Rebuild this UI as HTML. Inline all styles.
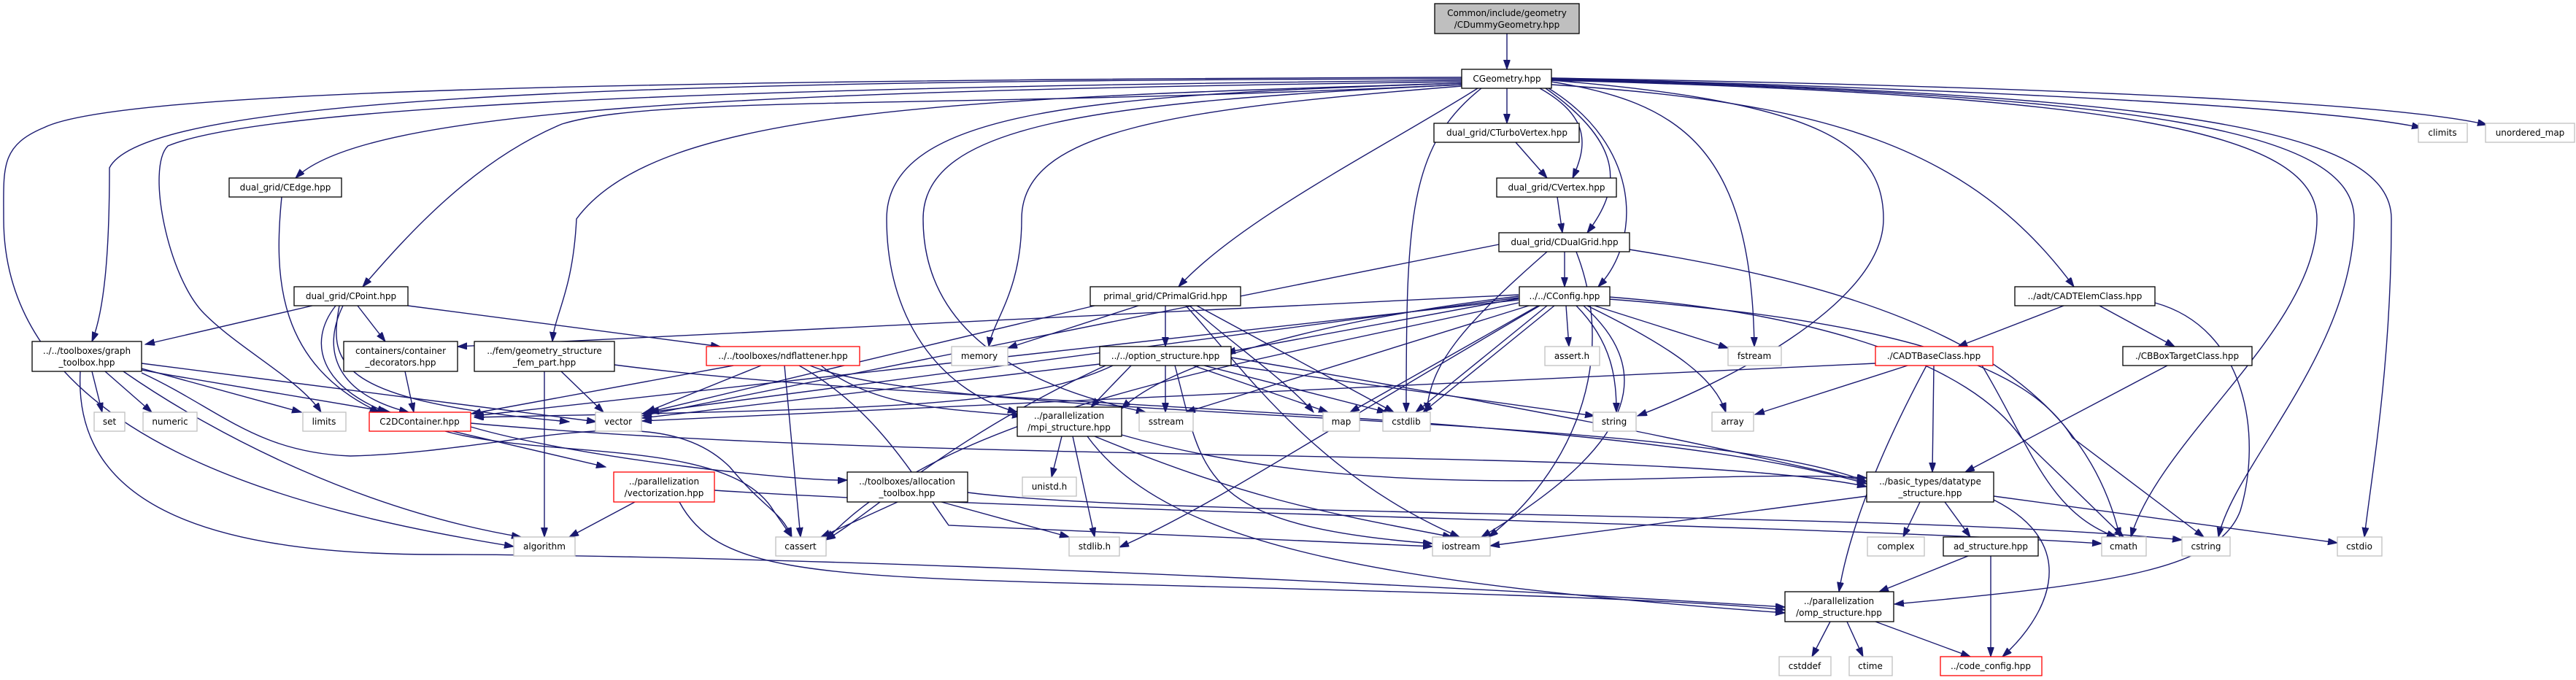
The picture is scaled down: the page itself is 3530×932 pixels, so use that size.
<!DOCTYPE html>
<html><head><meta charset="utf-8"><style>
html,body{margin:0;padding:0;background:#fff;}
svg{display:block;}
text{font-family:"DejaVu Sans","Liberation Sans",sans-serif;font-size:12px;fill:#000;text-anchor:middle;}
.n rect{fill:#fff;stroke:#000;stroke-width:1.3;}
.s rect{fill:#fff;stroke:#bfbfbf;stroke-width:1.3;}
.r rect{fill:#fff;stroke:#ff0000;stroke-width:1.3;}
path.e{fill:none;stroke:#191970;stroke-width:1.4;}
</style></head><body>
<svg width="3530" height="932" viewBox="0 0 3530 932" xmlns="http://www.w3.org/2000/svg">
<defs><marker id="a" markerUnits="userSpaceOnUse" markerWidth="14" markerHeight="10" refX="13" refY="4.5" orient="auto"><path d="M0,0 L13,4.5 L0,9 z" fill="#191970" stroke="#191970"/></marker></defs>
<g marker-end="url(#a)">
<path class="e" d="M2065 46 L2065 95"/>
<path class="e" d="M2065 121 L2065 169"/>
<path class="e" d="M2110 121 C2180 160 2175 200 2155 244"/>
<path class="e" d="M2118 121 C2230 200 2220 260 2175 319"/>
<path class="e" d="M2122 121 C2250 200 2250 330 2190 393"/>
<path class="e" d="M2077 195 L2120 244"/>
<path class="e" d="M2134 270 L2141 319"/>
<path class="e" d="M2144 345 L2144 393"/>
<path class="e" d="M2003 112 C1000 125 500 150 405 244"/>
<path class="e" d="M2003 116 C1300 150 900 130 770 170 C650 220 560 320 497 393"/>
<path class="e" d="M2003 108 C900 110 200 130 150 230 C150 330 145 420 126 468"/>
<path class="e" d="M2003 106 C700 110 150 130 60 175 C0 200 5 230 5 300 C5 600 400 700 704 749"/>
<path class="e" d="M2003 110 C900 120 350 150 230 200 C200 230 230 380 280 430 C330 480 410 520 440 565"/>
<path class="e" d="M2003 114 C1300 135 900 150 790 300 C785 400 760 430 757 468"/>
<path class="e" d="M2025 121 C1900 200 1700 300 1615 393"/>
<path class="e" d="M2003 114 C1500 130 1215 150 1215 300 C1215 450 1300 540 1394 565"/>
<path class="e" d="M2003 116 C1500 140 1265 170 1265 300 C1265 480 1450 540 1570 565"/>
<path class="e" d="M2003 118 C1600 150 1400 180 1400 300 C1400 400 1360 440 1355 475"/>
<path class="e" d="M2030 121 C1930 200 1927 300 1927 565"/>
<path class="e" d="M2126 112 C2300 140 2400 200 2404 475"/>
<path class="e" d="M2126 110 C2500 140 2581 200 2581 300 C2581 420 2350 530 2244 570"/>
<path class="e" d="M2126 110 C2900 130 3175 180 3175 300 C3175 450 2960 600 2920 736"/>
<path class="e" d="M2126 109 C2950 130 3226 180 3226 300 C3226 480 3060 640 3040 736"/>
<path class="e" d="M2126 108 C3000 130 3277 180 3277 300 C3277 500 3250 650 3240 736"/>
<path class="e" d="M2126 107 C2800 125 3200 150 3318 175"/>
<path class="e" d="M2126 107 C2900 120 3300 145 3408 171"/>
<path class="e" d="M2126 116 C2500 140 2700 200 2842 393"/>
<path class="e" d="M386 270 C375 380 380 500 520 565"/>
<path class="e" d="M428 419 L199 472"/>
<path class="e" d="M490 419 L528 468"/>
<path class="e" d="M460 419 C420 470 440 530 530 565"/>
<path class="e" d="M470 419 C440 480 460 540 560 565"/>
<path class="e" d="M559 419 L987 475"/>
<path class="e" d="M465 419 C450 500 460 550 780 578"/>
<path class="e" d="M194 507 L232 514 L535 565"/>
<path class="e" d="M194 498 L817 578"/>
<path class="e" d="M194 505 L413 565"/>
<path class="e" d="M126 509 L140 565"/>
<path class="e" d="M144 509 L208 565"/>
<path class="e" d="M169 509 C300 600 500 700 714 736"/>
<path class="e" d="M110 509 C100 700 300 760 600 760 C900 760 1600 780 2446 832"/>
<path class="e" d="M194 511 C300 560 350 620 480 625 C700 620 900 540 1000 640 C1050 700 1070 700 1085 736"/>
<path class="e" d="M555 509 L567 565"/>
<path class="e" d="M769 509 L827 565"/>
<path class="e" d="M746 509 L746 736"/>
<path class="e" d="M842 500 C1300 560 2200 560 2558 663"/>
<path class="e" d="M1005 501 L646 567"/>
<path class="e" d="M1043 501 L885 565"/>
<path class="e" d="M1075 501 L1097 736"/>
<path class="e" d="M1095 501 C1200 560 1250 650 1300 720 C1500 730 1800 740 1963 749"/>
<path class="e" d="M1125 501 C1200 560 1300 560 1400 570"/>
<path class="e" d="M1110 501 C1300 580 2300 560 2558 660"/>
<path class="e" d="M620 591 L830 640"/>
<path class="e" d="M645 585 C800 630 1100 660 1161 658"/>
<path class="e" d="M645 580 C1300 640 2300 610 2558 667"/>
<path class="e" d="M610 591 C750 630 1000 600 1060 700 L1085 736"/>
<path class="e" d="M870 688 L780 736"/>
<path class="e" d="M931 688 C980 780 1100 790 1500 800 C1900 810 2300 820 2446 836"/>
<path class="e" d="M979 672 C1400 700 2500 720 2880 745"/>
<path class="e" d="M1230 688 L1125 736"/>
<path class="e" d="M1290 688 L1465 736"/>
<path class="e" d="M1326 675 C1600 710 2600 700 2990 740"/>
<path class="e" d="M1560 419 L1381 477"/>
<path class="e" d="M1597 419 L1597 475"/>
<path class="e" d="M1500 419 L880 567"/>
<path class="e" d="M1640 419 L1910 565"/>
<path class="e" d="M1630 419 C1700 480 1760 520 1800 565"/>
<path class="e" d="M1625 419 C1700 500 1800 650 2000 736"/>
<path class="e" d="M1550 501 L1495 558"/>
<path class="e" d="M1597 501 L1597 565"/>
<path class="e" d="M1635 501 L1820 565"/>
<path class="e" d="M1650 501 L1900 565"/>
<path class="e" d="M1680 500 L2185 570"/>
<path class="e" d="M1507 499 L880 573"/>
<path class="e" d="M1525 501 C1400 560 1200 560 650 572"/>
<path class="e" d="M1610 501 C1650 650 1640 720 1963 745"/>
<path class="e" d="M1515 501 C1300 600 1200 700 1132 740"/>
<path class="e" d="M1687 490 C2100 560 2300 600 2558 660"/>
<path class="e" d="M1455 598 L1441 654"/>
<path class="e" d="M1470 598 L1500 736"/>
<path class="e" d="M1490 598 C1600 750 1900 800 2446 840"/>
<path class="e" d="M1537 596 C1900 700 2300 640 2558 655"/>
<path class="e" d="M1500 598 C1700 680 1800 700 1990 736"/>
<path class="e" d="M2081 409 L1680 483"/>
<path class="e" d="M2081 406 C1800 440 1600 500 1537 560"/>
<path class="e" d="M2081 404 L627 475"/>
<path class="e" d="M2081 408 L890 565"/>
<path class="e" d="M2081 411 L650 570"/>
<path class="e" d="M2095 419 L1625 565"/>
<path class="e" d="M2108 419 L1850 565"/>
<path class="e" d="M2120 419 L1940 565"/>
<path class="e" d="M2130 419 L1950 565"/>
<path class="e" d="M2146 419 L2150 475"/>
<path class="e" d="M2160 419 C2210 470 2215 520 2215 565"/>
<path class="e" d="M2185 419 L2368 477"/>
<path class="e" d="M2175 419 C2300 480 2350 520 2365 565"/>
<path class="e" d="M2170 419 C2260 500 2260 600 2030 736"/>
<path class="e" d="M2205 407 C2500 430 2700 500 2770 600 L2910 736"/>
<path class="e" d="M2205 410 C2600 440 2780 500 2840 600 L3020 736"/>
<path class="e" d="M2110 419 C1800 600 1650 700 1534 750"/>
<path class="e" d="M2081 415 C1700 500 1300 560 1132 740"/>
<path class="e" d="M2054 335 L880 570"/>
<path class="e" d="M2120 345 C2000 450 1960 500 1955 565"/>
<path class="e" d="M2160 345 C2220 500 2150 650 2040 736"/>
<path class="e" d="M2233 342 C2600 400 2850 500 2905 736"/>
<path class="e" d="M2828 419 L2683 475"/>
<path class="e" d="M2877 419 L2980 475"/>
<path class="e" d="M2953 415 C3080 450 3100 600 3070 700 C3040 780 2900 800 2596 828"/>
<path class="e" d="M2650 501 L2648 647"/>
<path class="e" d="M2614 501 L2405 568"/>
<path class="e" d="M2570 498 L880 577"/>
<path class="e" d="M2640 501 C2560 650 2530 750 2520 811"/>
<path class="e" d="M2970 501 L2693 647"/>
<path class="e" d="M2700 475 C2780 600 2800 700 2900 736"/>
<path class="e" d="M2631 688 L2608 736"/>
<path class="e" d="M2665 688 L2700 736"/>
<path class="e" d="M2732 680 L3203 744"/>
<path class="e" d="M2558 680 L2042 748"/>
<path class="e" d="M2732 685 C2860 750 2800 850 2744 900"/>
<path class="e" d="M2697 762 L2575 811"/>
<path class="e" d="M2728 762 L2728 900"/>
<path class="e" d="M2508 852 L2483 900"/>
<path class="e" d="M2531 852 L2553 900"/>
<path class="e" d="M2570 852 L2700 900"/>
</g>
<g class="n"><rect x="1966" y="5" width="198" height="41" style="fill:#bfbfbf"/><text x="2065" y="22">Common/include/geometry</text><text x="2065" y="38">/CDummyGeometry.hpp</text></g>
<g class="n"><rect x="2003" y="95" width="123" height="26"/><text x="2065" y="112">CGeometry.hpp</text></g>
<g class="n"><rect x="1965" y="169" width="199" height="26"/><text x="2065" y="186">dual_grid/CTurboVertex.hpp</text></g>
<g class="n"><rect x="2051" y="244" width="164" height="26"/><text x="2133" y="261">dual_grid/CVertex.hpp</text></g>
<g class="n"><rect x="2054" y="319" width="179" height="26"/><text x="2144" y="336">dual_grid/CDualGrid.hpp</text></g>
<g class="n"><rect x="314" y="244" width="154" height="26"/><text x="391" y="261">dual_grid/CEdge.hpp</text></g>
<g class="n"><rect x="403" y="393" width="156" height="26"/><text x="481" y="410">dual_grid/CPoint.hpp</text></g>
<g class="n"><rect x="1494" y="393" width="206" height="26"/><text x="1597" y="410">primal_grid/CPrimalGrid.hpp</text></g>
<g class="n"><rect x="2082" y="393" width="124" height="26"/><text x="2144" y="410">../../CConfig.hpp</text></g>
<g class="n"><rect x="2761" y="393" width="192" height="26"/><text x="2857" y="410">../adt/CADTElemClass.hpp</text></g>
<g class="n"><rect x="44" y="468" width="150" height="41"/><text x="119" y="485">../../toolboxes/graph</text><text x="119" y="501">_toolbox.hpp</text></g>
<g class="n"><rect x="471" y="468" width="156" height="41"/><text x="549" y="485">containers/container</text><text x="549" y="501">_decorators.hpp</text></g>
<g class="n"><rect x="650" y="468" width="192" height="41"/><text x="746" y="485">../fem/geometry_structure</text><text x="746" y="501">_fem_part.hpp</text></g>
<g class="r"><rect x="968" y="475" width="210" height="26"/><text x="1073" y="492">../../toolboxes/ndflattener.hpp</text></g>
<g class="s"><rect x="1304" y="475" width="77" height="26"/><text x="1342" y="492">memory</text></g>
<g class="n"><rect x="1507" y="475" width="180" height="26"/><text x="1597" y="492">../../option_structure.hpp</text></g>
<g class="s"><rect x="2117" y="475" width="75" height="26"/><text x="2154" y="492">assert.h</text></g>
<g class="s"><rect x="2368" y="475" width="73" height="26"/><text x="2404" y="492">fstream</text></g>
<g class="r"><rect x="2570" y="475" width="161" height="26"/><text x="2650" y="492">./CADTBaseClass.hpp</text></g>
<g class="n"><rect x="2909" y="475" width="177" height="26"/><text x="2997" y="492">./CBBoxTargetClass.hpp</text></g>
<g class="s"><rect x="129" y="565" width="42" height="26"/><text x="150" y="582">set</text></g>
<g class="s"><rect x="196" y="565" width="74" height="26"/><text x="233" y="582">numeric</text></g>
<g class="s"><rect x="415" y="565" width="59" height="26"/><text x="444" y="582">limits</text></g>
<g class="r"><rect x="506" y="565" width="139" height="26"/><text x="575" y="582">C2DContainer.hpp</text></g>
<g class="s"><rect x="816" y="565" width="63" height="26"/><text x="847" y="582">vector</text></g>
<g class="n"><rect x="1394" y="558" width="143" height="40"/><text x="1465" y="574">../parallelization</text><text x="1465" y="590">/mpi_structure.hpp</text></g>
<g class="s"><rect x="1561" y="565" width="74" height="26"/><text x="1598" y="582">sstream</text></g>
<g class="s"><rect x="1813" y="565" width="50" height="26"/><text x="1838" y="582">map</text></g>
<g class="s"><rect x="1895" y="565" width="65" height="26"/><text x="1927" y="582">cstdlib</text></g>
<g class="s"><rect x="2183" y="565" width="59" height="26"/><text x="2212" y="582">string</text></g>
<g class="s"><rect x="2346" y="565" width="57" height="26"/><text x="2374" y="582">array</text></g>
<g class="r"><rect x="841" y="647" width="138" height="41"/><text x="910" y="664">../parallelization</text><text x="910" y="680">/vectorization.hpp</text></g>
<g class="n"><rect x="1161" y="647" width="165" height="41"/><text x="1243" y="664">../toolboxes/allocation</text><text x="1243" y="680">_toolbox.hpp</text></g>
<g class="s"><rect x="1401" y="654" width="74" height="26"/><text x="1438" y="671">unistd.h</text></g>
<g class="n"><rect x="2558" y="647" width="174" height="41"/><text x="2645" y="664">../basic_types/datatype</text><text x="2645" y="680">_structure.hpp</text></g>
<g class="s"><rect x="704" y="736" width="84" height="26"/><text x="746" y="753">algorithm</text></g>
<g class="s"><rect x="1063" y="736" width="69" height="26"/><text x="1097" y="753">cassert</text></g>
<g class="s"><rect x="1465" y="736" width="69" height="26"/><text x="1500" y="753">stdlib.h</text></g>
<g class="s"><rect x="1963" y="736" width="79" height="26"/><text x="2002" y="753">iostream</text></g>
<g class="s"><rect x="2559" y="736" width="78" height="26"/><text x="2598" y="753">complex</text></g>
<g class="n"><rect x="2663" y="736" width="130" height="26"/><text x="2728" y="753">ad_structure.hpp</text></g>
<g class="s"><rect x="2880" y="736" width="61" height="26"/><text x="2910" y="753">cmath</text></g>
<g class="s"><rect x="2990" y="736" width="66" height="26"/><text x="3023" y="753">cstring</text></g>
<g class="s"><rect x="3203" y="736" width="61" height="26"/><text x="3233" y="753">cstdio</text></g>
<g class="s"><rect x="3314" y="169" width="67" height="26"/><text x="3347" y="186">climits</text></g>
<g class="s"><rect x="3406" y="169" width="122" height="26"/><text x="3467" y="186">unordered_map</text></g>
<g class="n"><rect x="2446" y="811" width="149" height="41"/><text x="2520" y="828">../parallelization</text><text x="2520" y="844">/omp_structure.hpp</text></g>
<g class="s"><rect x="2438" y="900" width="71" height="26"/><text x="2473" y="917">cstddef</text></g>
<g class="s"><rect x="2534" y="900" width="59" height="26"/><text x="2563" y="917">ctime</text></g>
<g class="r"><rect x="2659" y="900" width="139" height="26"/><text x="2728" y="917">../code_config.hpp</text></g>
</svg>
</body></html>
